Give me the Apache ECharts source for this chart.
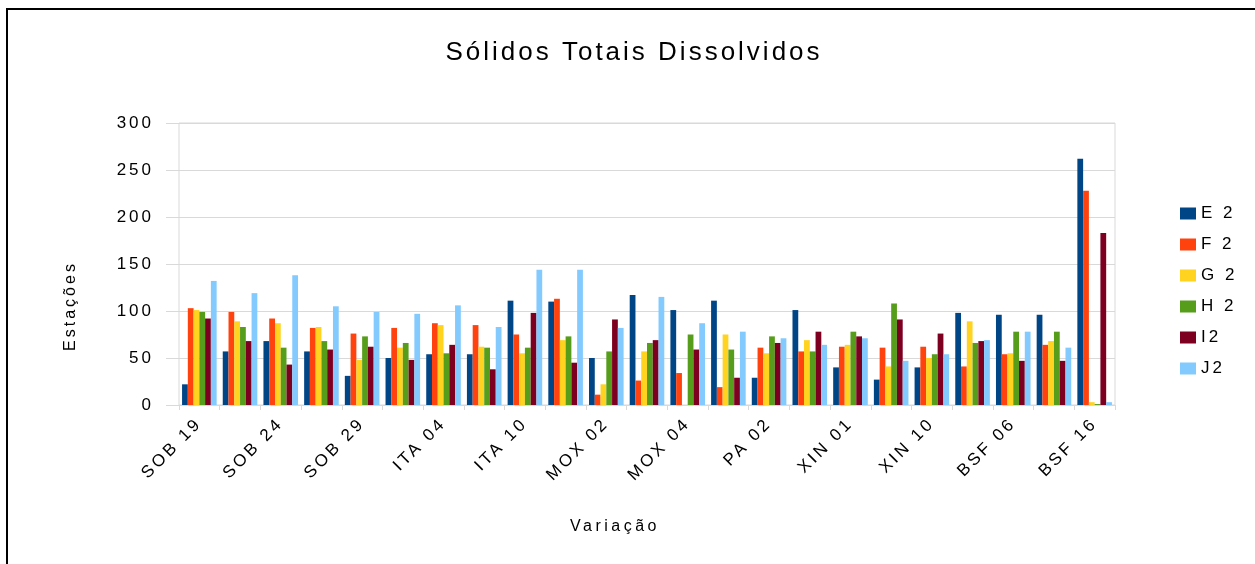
<!DOCTYPE html>
<html>
<head>
<meta charset="utf-8">
<script src="https://cdn.jsdelivr.net/npm/echarts@6/dist/echarts.min.js"></script>
<style>
  html, body { margin: 0; padding: 0; background: #fff; }
  #chart { position: absolute; left: 0; top: 0; width: 1255px; height: 564px; }
  #frame { position: absolute; left: 6px; top: 8px; width: 1260px; height: 570px;
           border-left: 2px solid #000; border-top: 2px solid #000; pointer-events: none; }
</style>
</head>
<body>
<div id="chart"></div>
<div id="frame"></div>
<script>
// estações (only every other one is labelled on the axis)
const stations = ['SOB 19', 'SOB 21', 'SOB 24', 'SOB 27', 'SOB 29', 'ITA 01', 'ITA 04', 'ITA 07',
  'ITA 10', 'MOX 01', 'MOX 02', 'MOX 03', 'MOX 04', 'PA 01', 'PA 02', 'PA 04',
  'XIN 01', 'XIN 05', 'XIN 10', 'BSF 02', 'BSF 06', 'BSF 10', 'BSF 16']

const seriesNames = ['E 2', 'F 2', 'G 2', 'H 2', 'I2', 'J2']
const seriesColors = ['#004586', '#ff420e', '#ffd320', '#579d1c', '#7e0021', '#83caff']

const e2 = [22, 57, 68, 57, 31, 50, 54, 54, 111, 110, 50, 117, 101, 111, 29, 101, 40, 27, 40, 98, 96, 96, 262]
const f2 = [103, 99, 92, 82, 76, 82, 87, 85, 75, 113, 11, 26, 34, 19, 61, 57, 62, 61, 62, 41, 54, 64, 228]
const g2 = [101, 89, 87, 83, 48, 61, 85, 62, 55, 69, 22, 57, null, 75, 55, 69, 64, 41, 50, 89, 55, 68, 3]
const h2 = [99, 83, 61, 68, 73, 66, 55, 61, 61, 73, 57, 66, 75, 59, 73, 57, 78, 108, 54, 66, 78, 78, 1]
const i2 = [92, 68, 43, 59, 62, 48, 64, 38, 98, 45, 91, 69, 59, 29, 66, 78, 73, 91, 76, 68, 47, 47, 183]
const j2 = [132, 119, 138, 105, 99, 97, 106, 83, 144, 144, 82, 115, 87, 78, 71, 64, 71, 47, 54, 69, 78, 61, 3]
const values = [e2, f2, g2, h2, i2, j2]

const yTicks = { min: 0, max: 300, interval: 50 }

// the titles in the original are drawn letter-spaced; zrender has no option for that,
// so set it on the canvas context just for these strings
const spaced = { 'Sólidos Totais Dissolvidos': '3px', 'Variação': '3.5px', 'Estações': '3px' }
const origFillText = CanvasRenderingContext2D.prototype.fillText
CanvasRenderingContext2D.prototype.fillText = function (text, x, y, w) {
  const ls = spaced[text]
  if (ls && 'letterSpacing' in this) {
    const prev = this.letterSpacing
    this.letterSpacing = ls
    origFillText.call(this, text, x, y, w)
    this.letterSpacing = prev
    return
  }
  return origFillText.apply(this, arguments)
}

const font = 'Liberation Sans'
const gridColor = '#d9d9d9'

const chart = echarts.init(document.getElementById('chart'), null, { renderer: 'canvas' })
chart.setOption({
  animation: false,
  title: {
    text: 'Sólidos Totais Dissolvidos',
    left: 629,
    textAlign: 'center',
    top: 35,
    textStyle: { fontFamily: font, fontSize: 26, fontWeight: 'normal', color: '#000' }
  },
  legend: {
    data: seriesNames,
    orient: 'vertical',
    left: 1175,
    top: 200,
    itemWidth: 16,
    itemHeight: 12,
    itemGap: 14,
    icon: 'rect',
    textStyle: { fontFamily: font, fontSize: 17, color: '#000' }
  },
  grid: {
    left: 179,
    right: 140,
    top: 123,
    bottom: 159,
    show: true,
    borderColor: gridColor,
    borderWidth: 1
  },
  xAxis: {
    type: 'category',
    data: stations,
    name: 'Variação',
    nameLocation: 'middle',
    nameGap: 114,
    nameTextStyle: { fontFamily: font, fontSize: 16, color: '#000', padding: [0, 64, 0, 0] },
    axisLine: { lineStyle: { color: gridColor } },
    axisTick: { show: true, interval: 0, length: 5, lineStyle: { color: gridColor } },
    axisLabel: {
      interval: 1,
      rotate: 45,
      margin: 16,
      fontFamily: font,
      fontSize: 17,
      color: '#000'
    }
  },
  yAxis: {
    type: 'value',
    min: yTicks.min,
    max: yTicks.max,
    interval: yTicks.interval,
    name: 'Estações',
    nameLocation: 'middle',
    nameGap: 100,
    nameTextStyle: { fontFamily: font, fontSize: 16, color: '#000', padding: [0, 84, 0, 0] },
    axisLine: { show: false },
    axisTick: { show: true, length: 13, lineStyle: { color: gridColor } },
    axisLabel: { margin: 25, fontFamily: font, fontSize: 17, color: '#000' },
    splitLine: { lineStyle: { color: gridColor } }
  },
  series: seriesNames.map((name, k) => ({
    name: name,
    type: 'bar',
    data: values[k],
    barGap: '0%',
    barCategoryGap: '15%',
    itemStyle: { color: seriesColors[k] }
  }))
})
</script>
</body>
</html>
